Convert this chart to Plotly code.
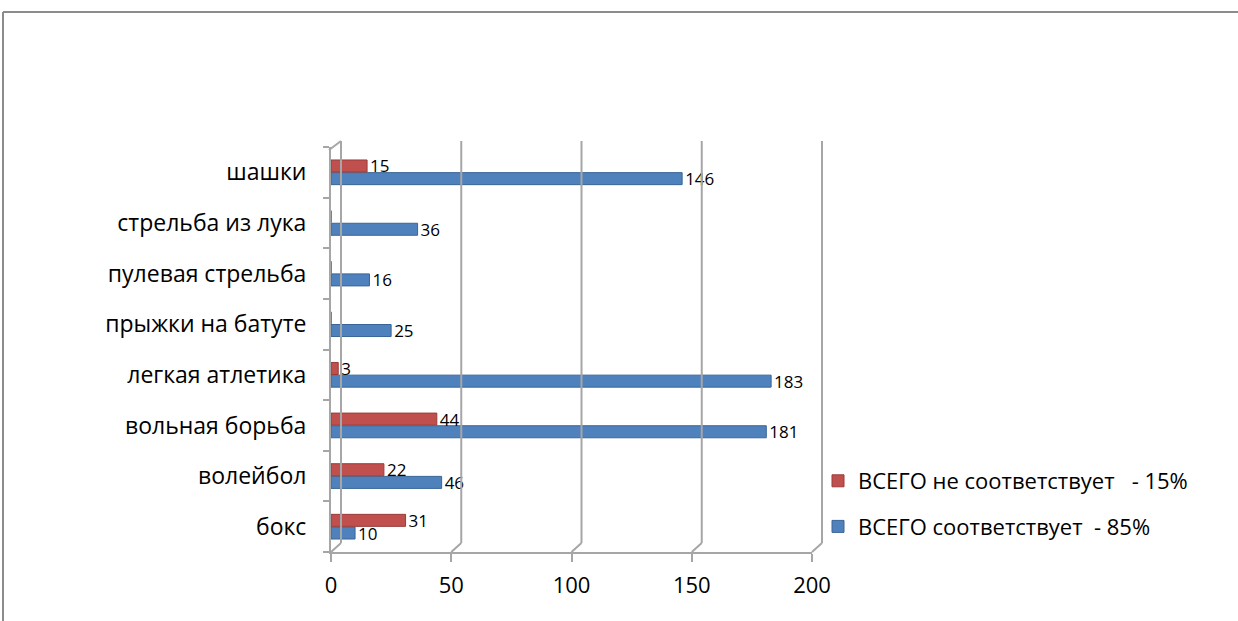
import plotly.graph_objects as go

categories = ["бокс", "волейбол", "вольная борьба", "легкая атлетика",
              "прыжки на батуте", "пулевая стрельба", "стрельба из лука", "шашки"]
fit_values = [10, 46, 181, 183, 25, 16, 36, 146]
unfit_values = [31, 22, 44, 3, 0, 0, 0, 15]
fit_name = "ВСЕГО соответствует\u00a0 - 85%"
unfit_name = "ВСЕГО не соответствует\u00a0\u00a0 - 15%"
x_ticks = [0, 50, 100, 150, 200]
x_max = 200

FONT = "'Open Sans', 'Noto Sans', sans-serif"
GRID = "#A6A6A6"

def labels(vals):
    return [str(v) if v else "" for v in vals]

fig = go.Figure()
fig.add_trace(go.Bar(
    y=categories, x=fit_values, orientation="h", name=fit_name,
    marker=dict(color="#4F81BD", line=dict(color="#3A6596", width=1)),
    text=labels(fit_values), textposition="outside", constraintext="none",
    textfont=dict(size=17, color="#000000", family=FONT),
    cliponaxis=False, legendgroup="fit", legendrank=2,
))
fig.add_trace(go.Bar(
    y=categories, x=unfit_values, orientation="h", name=unfit_name,
    marker=dict(color="#C0504D", line=dict(color="#9B3B39", width=1)),
    text=labels(unfit_values), textposition="outside", constraintext="none",
    textfont=dict(size=17, color="#000000", family=FONT),
    cliponaxis=False, legendgroup="unfit", legendrank=1,
))

W, H = 1238, 621
L, R, T, B = 331, 812, 147, 552

def px(x):
    return (x - L) / (R - L)

def py(y):
    return (B - y) / (B - T)

DEPTH = 10  # pixel depth of the pseudo-3D back wall

shapes = [
    # outer frame
    dict(type="line", xref="paper", yref="paper",
         x0=px(3), x1=px(1240), y0=py(12), y1=py(12),
         line=dict(color="#8C8C8C", width=2)),
    dict(type="line", xref="paper", yref="paper",
         x0=px(3), x1=px(3), y0=py(12), y1=py(625),
         line=dict(color="#8C8C8C", width=2)),
    # left wall: front edge extension and top diagonal
    dict(type="line", xref="paper", yref="paper",
         x0=px(330), x1=px(330), y0=1, y1=py(150),
         line=dict(color=GRID, width=2)),
    dict(type="line", xref="paper", yref="paper", xsizemode="pixel", xanchor=0,
         x0=-2, x1=DEPTH, y0=py(150), y1=py(141),
         line=dict(color=GRID, width=2)),
]
for v in x_ticks:
    a = v / x_max
    # back gridline
    shapes.append(dict(type="line", xref="paper", yref="paper", xsizemode="pixel", xanchor=a,
                       x0=DEPTH, x1=DEPTH, y0=py(B - DEPTH + 1), y1=py(141),
                       line=dict(color=GRID, width=2)))
    # floor diagonal
    shapes.append(dict(type="line", xref="paper", yref="paper", xsizemode="pixel", xanchor=a,
                       x0=0, x1=DEPTH, y0=0, y1=py(B - DEPTH + 1),
                       line=dict(color=GRID, width=2)))

fig.update_layout(
    width=W, height=H,
    margin=dict(l=L, r=W - R, t=T, b=H - B),
    paper_bgcolor="white", plot_bgcolor="white",
    barmode="group", bargap=0.5, bargroupgap=0.05,
    font=dict(family=FONT, color="#000000"),
    showlegend=True,
    legend=dict(
        x=px(818), y=py(460), xanchor="left", yanchor="top",
        traceorder="grouped", tracegroupgap=14,
        font=dict(size=22, family=FONT), itemwidth=30,
        bgcolor="rgba(0,0,0,0)",
    ),
    xaxis=dict(
        range=[0, x_max], tickvals=x_ticks, ticktext=[str(v) for v in x_ticks],
        showgrid=False,
        showline=True, linecolor=GRID, linewidth=2,
        ticks="outside", ticklen=8, tickcolor=GRID, tickwidth=2,
        ticklabelstandoff=5,
        tickfont=dict(size=22, family=FONT), zeroline=False,
    ),
    yaxis=dict(
        type="category", categoryorder="array", categoryarray=categories,
        showline=True, linecolor=GRID, linewidth=2,
        ticks="outside", ticklen=6, tickcolor=GRID, tickwidth=2,
        tickson="boundaries", ticklabelstandoff=18,
        tickfont=dict(size=23, family=FONT), showgrid=False,
    ),
    shapes=shapes,
)

fig.write_html("out.html", config={"displayModeBar": False},
               post_script="document.body.style.margin='0';")
